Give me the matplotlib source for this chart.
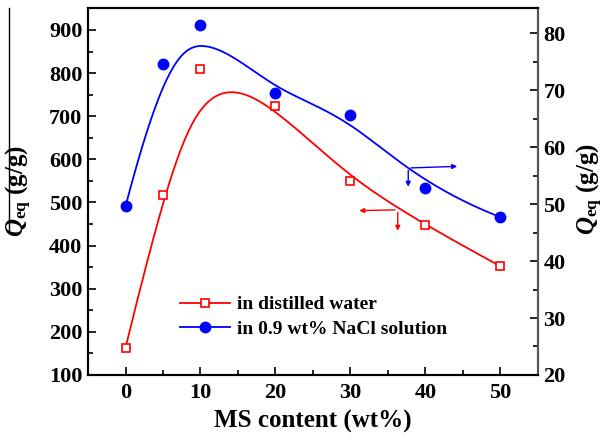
import numpy as np
import matplotlib
matplotlib.use('Agg')
import matplotlib.pyplot as plt
from matplotlib.lines import Line2D

# data
ms_content = [0, 5, 10, 20, 30, 40, 50]
q_water = [163, 517, 810, 724, 550, 447, 352]
q_nacl = [49.6, 74.6, 81.4, 69.5, 65.6, 52.8, 47.7]

x_ticks = [0, 10, 20, 30, 40, 50]
left_ticks = [100, 200, 300, 400, 500, 600, 700, 800, 900]
right_ticks = [20, 30, 40, 50, 60, 70, 80]

labels = ['in distilled water', 'in 0.9 wt% NaCl solution']

plt.rcParams['font.family'] = 'Liberation Serif'
plt.rcParams['font.weight'] = 'bold'
plt.rcParams['mathtext.fontset'] = 'custom'
plt.rcParams['mathtext.it'] = 'Liberation Serif:italic:bold'
plt.rcParams['mathtext.rm'] = 'Liberation Serif:bold'


def bspline(px, py, n=300):
    # clamped cubic B-spline using the data points as control points
    px = np.asarray(px, float)
    py = np.asarray(py, float)
    k = 3
    m = len(px)
    inner = np.linspace(0, 1, m - k + 1)[1:-1]
    t = np.concatenate([[0] * (k + 1), inner, [1] * (k + 1)])
    u = np.linspace(0, 1, n)
    u[-1] = 1 - 1e-12

    def basis(i, p, u):
        if p == 0:
            return ((t[i] <= u) & (u < t[i + 1])).astype(float)
        a = 0.0
        b = 0.0
        if t[i + p] != t[i]:
            a = (u - t[i]) / (t[i + p] - t[i]) * basis(i, p - 1, u)
        if t[i + p + 1] != t[i + 1]:
            b = (t[i + p + 1] - u) / (t[i + p + 1] - t[i + 1]) * basis(i + 1, p - 1, u)
        return a + b

    B = np.array([basis(i, k, u) for i in range(m)])
    return B.T @ px, B.T @ py


fig = plt.figure(figsize=(6.04, 4.42), dpi=100)
ax = fig.add_axes([0.1457, 0.1516, 0.745, 0.8303])
ax2 = ax.twinx()

red = '#ff0000'
blue = '#0000ff'

cx, cy = bspline(ms_content, q_water)
ax.plot(cx, cy, color=red, lw=1.3)
ax.plot(ms_content, q_water, 's', ms=6, mfc='white', mec=red, mew=1.2)

bx, by = bspline(ms_content, q_nacl)
ax2.plot(bx, by, color=blue, lw=1.3)
ax2.plot(ms_content, q_nacl, 'o', ms=7.5, color=blue)

# arrows showing which axis each curve belongs to
akw = dict(arrowstyle='-|>', mutation_scale=7, lw=1.0)
ax.annotate('', xy=(30.8, 481), xytext=(36.3, 483), arrowprops=dict(color=red, **akw))
ax.annotate('', xy=(36.3, 428), xytext=(36.3, 484), arrowprops=dict(color=red, **akw))
ax.annotate('', xy=(44.6, 584), xytext=(37.7, 580), arrowprops=dict(color=blue, **akw))
ax.annotate('', xy=(37.7, 530), xytext=(37.7, 581), arrowprops=dict(color=blue, **akw))

ax.set_xlim(-5, 55)
ax.set_ylim(100, 951)
ax2.set_ylim(20, 84.4)
ax.set_xticks(x_ticks)
ax.set_xticks(np.arange(-5, 56, 5), minor=True)
ax.set_yticks(left_ticks)
ax.set_yticks(np.arange(150, 951, 100), minor=True)
ax2.set_yticks(right_ticks)
ax2.set_yticks(np.arange(25, 85, 10), minor=True)

for a in (ax, ax2):
    a.tick_params(which='both', direction='in', labelsize=16, width=1.2, pad=4)
    a.tick_params(which='major', length=6)
    a.tick_params(which='minor', length=3.5)
    for s in a.spines.values():
        s.set_linewidth(1.5)
ax.tick_params(axis='x', pad=6)
ax2.spines['right'].set_color('#555555')
ax.spines['left'].set_color('#333333')

ax.set_xlabel('MS content (wt%)', fontsize=18, fontweight='bold', labelpad=5)
ax.set_ylabel(r'$Q_{\rm eq}$ (g/g)', fontsize=18, fontweight='bold')
ax2.set_ylabel(r'$Q_{\rm eq}$ (g/g)', fontsize=18, fontweight='bold')
ax.yaxis.set_label_coords(-0.121, 0.5)
ax2.yaxis.set_label_coords(1.081, 0.507)

handles = [
    Line2D([], [], color=red, lw=1.3, marker='s', ms=6, mfc='white', mec=red, mew=1.2),
    Line2D([], [], color=blue, lw=1.3, marker='o', ms=7.5, mfc=blue, mec=blue),
]
ax.legend(handles, labels, loc='lower left', bbox_to_anchor=(0.187, 0.08),
          frameon=False, fontsize=14, handlelength=2.6, handletextpad=0.35,
          labelspacing=0.35, borderaxespad=0)

# stray vertical rule at the left edge of the original image
fig.add_artist(Line2D([9 / 604, 9 / 604], [1 - 8 / 442, 1 - 230 / 442], color='black', lw=1.0))

fig.savefig('out.png', dpi=100)
